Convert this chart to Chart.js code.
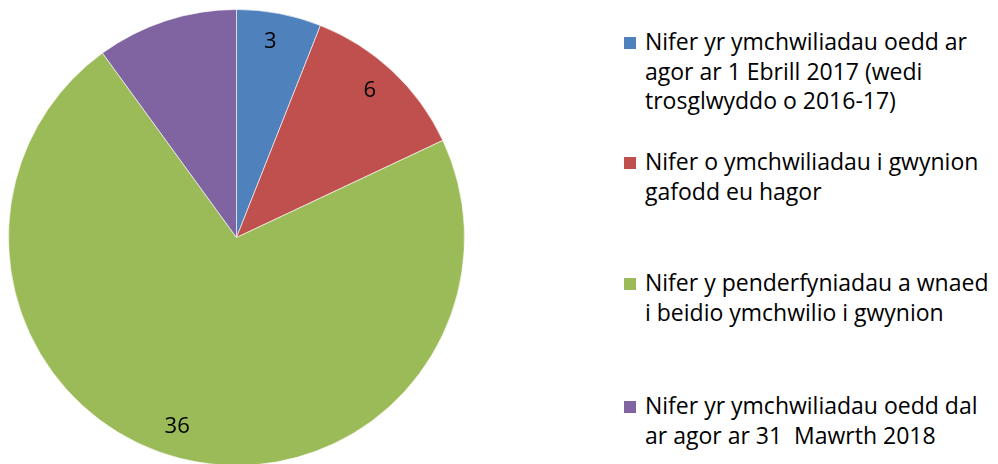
<!DOCTYPE html>
<html>
<head>
<meta charset="utf-8">
<script src="https://cdn.jsdelivr.net/npm/chart.js@4"></script>
<style>
  html, body { margin: 0; padding: 0; background: #fff; overflow: hidden; width: 998px; height: 464px; }
  .pie_box { position: absolute; left: 0; top: 0; width: 476px; height: 476px; }
  .legend { position: absolute; left: 624px; top: 0; font-family: "Open Sans", Lato, sans-serif; font-size: 23px; color: #000; }
  .legend_item { position: absolute; left: 0; white-space: pre; line-height: 29.5px; }
  .legend_item .box { position: absolute; left: 0; top: 10px; width: 12px; height: 12px; }
  .legend_item .txt { position: absolute; left: 21px; top: 0; }
</style>
</head>
<body>
<div class="pie_box"><canvas id="pie_chart"></canvas></div>
<div class="legend" id="legend"></div>
<script>
// data
const categories = [
    ["Nifer yr ymchwiliadau oedd ar", "agor ar 1 Ebrill 2017 (wedi", "trosglwyddo o 2016-17)"],
    ["Nifer o ymchwiliadau i gwynion", "gafodd eu hagor"],
    ["Nifer y penderfyniadau a wnaed", "i beidio ymchwilio i gwynion"],
    ["Nifer yr ymchwiliadau oedd dal", "ar agor ar 31  Mawrth 2018"]
];
const values = [3, 6, 36, 5];
const shownLabels = [true, true, true, false];
const colours = ["#4F81BD", "#C0504D", "#9BBB59", "#8064A2"];

/* legend, built by hand so the lines wrap like the original */
const legendTops = [27, 147, 268, 391];
let legend = document.getElementById("legend");
for(let i = 0; i < categories.length; i++)
{
    let item = document.createElement("div");
    item.className = "legend_item";
    item.style.top = legendTops[i] + "px";
    let box = document.createElement("div");
    box.className = "box";
    box.style.background = colours[i];
    let txt = document.createElement("div");
    txt.className = "txt";
    txt.textContent = categories[i].join("\n");
    item.appendChild(box);
    item.appendChild(txt);
    legend.appendChild(item);
}

/* value labels inside the slices */
const sliceLabels = {
    id: 'sliceLabels',
    afterDatasetsDraw(chart, args, opts)
    {
        const ctx = chart.ctx;
        const meta = chart.getDatasetMeta(0);
        ctx.save();
        ctx.font = opts.font;
        ctx.fillStyle = '#000';
        ctx.textAlign = 'center';
        ctx.textBaseline = 'middle';
        meta.data.forEach((arc, i) =>
        {
            if(!shownLabels[i]) return;
            let a = (arc.startAngle + arc.endAngle) / 2 + (opts.angleShift[i] || 0) * Math.PI / 180;
            let r = arc.outerRadius * opts.radiusFactor;
            ctx.fillText(String(values[i]), arc.x + Math.cos(a) * r, arc.y + Math.sin(a) * r);
        });
        ctx.restore();
    }
};

new Chart(document.getElementById('pie_chart'), {
    type: 'pie',
    data: {
        labels: categories.map(c => c.join(" ")),
        datasets: [{
            data: values,
            backgroundColor: colours,
            borderColor: "rgba(255,255,255,0.6)",
            borderWidth: 1
        }]
    },
    options: {
        responsive: true,
        maintainAspectRatio: false,
        animation: false,
        layout: { padding: { left: 8, right: 11, top: 9, bottom: 10 } },
        plugins: {
            legend: { display: false },
            tooltip: { enabled: false },
            sliceLabels: {
                font: '22px "Open Sans", Lato, sans-serif',
                radiusFactor: 0.87,
                angleShift: [-1, -1, 3, 0]
            }
        }
    },
    plugins: [sliceLabels]
});
</script>
</body>
</html>
